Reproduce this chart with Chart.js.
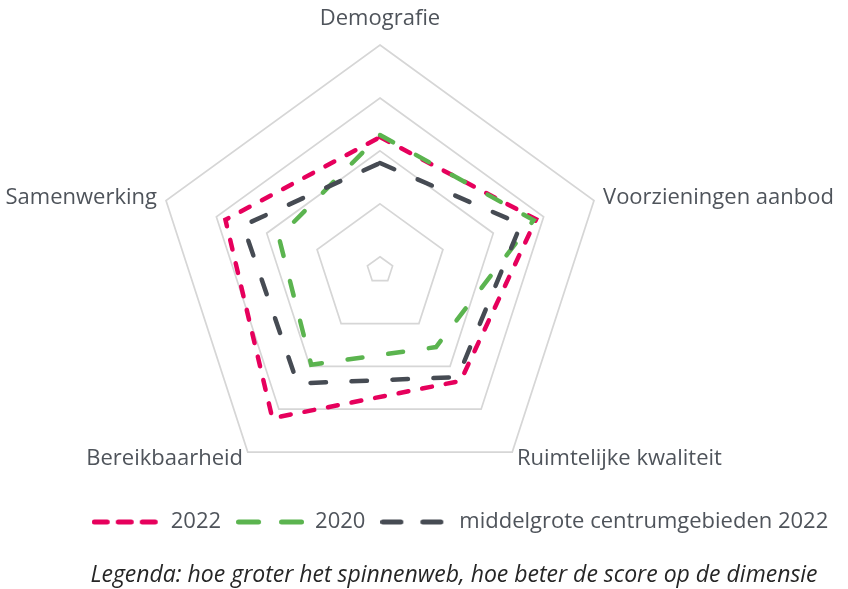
<!DOCTYPE html>
<html lang="nl">
<head>
<meta charset="utf-8">
<title>Spinnenweb centrumgebied</title>
<script src="https://cdn.jsdelivr.net/npm/chart.js@4.4.1/dist/chart.umd.min.js"></script>
<style>
  html, body { margin: 0; padding: 0; background: #fff; overflow: hidden; }
  /* het doek is breder dan het venster, zodat de lange labels passen */
  #web { display: block; margin-left: -120px; }
</style>
</head>
<body>
<canvas id="web" width="1000" height="589"></canvas>
<script>
// Gegevens
const dimensies = ["Demografie", "Voorzieningen aanbod", "Ruimtelijke kwaliteit", "Bereikbaarheid", "Samenwerking"];
const reeksNamen = ["2022", "2020", "middelgrote centrumgebieden 2022"];
const scores2022 = [3.26, 3.85, 3.34, 4.21, 3.82];
const scores2020 = [3.30, 3.80, 2.55, 2.96, 2.76];
const scoresMiddelgroot = [2.77, 3.55, 3.25, 3.40, 3.47];
const schaalMin = 0.75;
const schaalMax = 5;
const rasterWaarden = [1, 2, 3, 4, 5];
const toelichting = "Legenda: hoe groter het spinnenweb, hoe beter de score op de dimensie";

// Stijl
const kleuren = ["#e6005c", "#5bb44f", "#464b53"];
const lijnStrepen = [[10, 14], [15, 26], [15.5, 25.5]];
const legendaStrepen = [[13, 11], [20, 23], [18, 22]];
const labelAfstand = [26, 9.5, 8, 8, 9.5];
const tekstKleur = "#4f545b";
const lettertype = "'Open Sans', 'Noto Sans', sans-serif";
const verschuiving = 120; // zelfde als margin-left van het doek

// Streepje voor de legenda
function maakStreepje(kleur, streep) {
    const c = document.createElement("canvas");
    c.width = 68;
    c.height = 8;
    const g = c.getContext("2d");
    g.strokeStyle = kleur;
    g.lineWidth = 5;
    g.lineCap = "round";
    g.setLineDash(streep);
    g.beginPath();
    g.moveTo(2.5, 4);
    g.lineTo(65.5, 4);
    g.stroke();
    return c;
}
const streepjes = kleuren.map((k, i) => maakStreepje(k, legendaStrepen[i]));

// Legenda en toelichting op hun plek zetten
const onderschrift = {
    id: "onderschrift",
    afterLayout(chart) {
        const lg = chart.legend;
        lg.left = verschuiving + 10; lg.right = lg.left + 900; lg.width = 900;
        lg.top = 496; lg.bottom = lg.top + lg.height;
        const tt = chart.titleBlock;
        tt.left = verschuiving + 4; tt.right = tt.left + 900; tt.width = 900;
        tt.top = 575 - tt.height / 2; tt.bottom = tt.top + tt.height;
    }
};

function reeks(i, data) {
    return {
        label: reeksNamen[i],
        data: data,
        borderColor: kleuren[i],
        backgroundColor: "transparent",
        borderWidth: 4.5,
        borderDash: lijnStrepen[i],
        borderCapStyle: "round",
        fill: false,
        pointRadius: 0,
        pointHoverRadius: 0,
        order: 3 - i
    };
}

new Chart(document.getElementById("web"), {
    type: "radar",
    data: {
        labels: dimensies,
        datasets: [
            reeks(0, scores2022),
            reeks(1, scores2020),
            reeks(2, scoresMiddelgroot)
        ]
    },
    options: {
        responsive: false,
        animation: false,
        devicePixelRatio: 1,
        layout: { padding: { left: 0, right: 0, top: 6, bottom: 4.8 } },
        elements: { line: { tension: 0 } },
        scales: {
            r: {
                min: schaalMin,
                max: schaalMax,
                afterBuildTicks: s => {
                    s.ticks = [schaalMin, ...rasterWaarden].map(v => ({ value: v }));
                },
                ticks: { display: false },
                angleLines: { display: false },
                grid: { color: "#d6d6d6", lineWidth: 1.7 },
                pointLabels: {
                    color: tekstKleur,
                    padding: ctx => labelAfstand[ctx.index],
                    font: { family: lettertype, size: 22, lineHeight: 0 }
                }
            }
        },
        plugins: {
            tooltip: { enabled: false },
            legend: {
                position: "bottom",
                labels: {
                    usePointStyle: true,
                    pointStyleWidth: 68,
                    padding: 15,
                    font: { family: lettertype, size: 22 },
                    generateLabels: chart => chart.data.datasets.map((ds, i) => ({
                        text: ds.label,
                        pointStyle: streepjes[i],
                        fillStyle: "transparent",
                        strokeStyle: "transparent",
                        lineWidth: 0,
                        fontColor: tekstKleur,
                        hidden: false,
                        datasetIndex: i
                    }))
                }
            },
            title: {
                display: true,
                position: "bottom",
                text: toelichting,
                color: "#262626",
                padding: 0,
                font: { family: lettertype, size: 23, style: "italic", weight: "normal" }
            }
        }
    },
    plugins: [onderschrift]
});
</script>
</body>
</html>
